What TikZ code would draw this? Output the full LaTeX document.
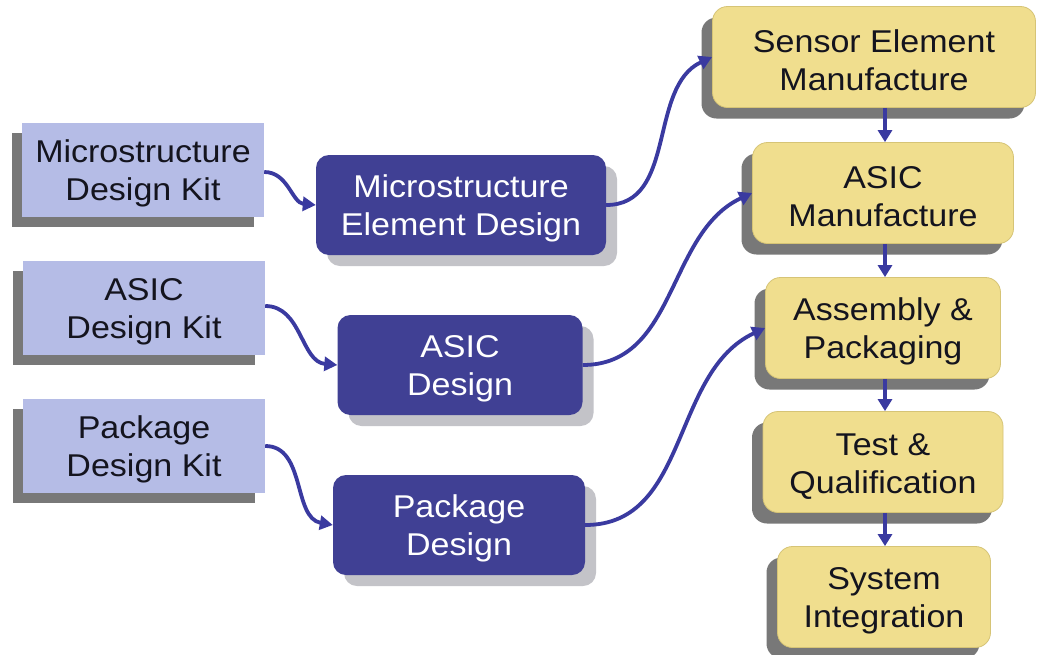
\documentclass[tikz,border=0pt]{standalone}
\usepackage{fontspec}
\setmainfont{Liberation Sans}[FakeStretch=1.08]
\usetikzlibrary{shadows,arrows.meta}
\definecolor{kitblue}{RGB}{181,188,230}
\definecolor{darkblue}{RGB}{64,64,148}
\definecolor{sand}{RGB}{240,222,142}
\definecolor{sandedge}{RGB}{214,196,118}
\definecolor{arrowblue}{RGB}{58,58,160}
\definecolor{shadowdark}{RGB}{120,120,120}
\definecolor{shadowlight}{RGB}{195,195,200}
\definecolor{inktext}{RGB}{20,20,30}
\newcommand\tp{\rule{0pt}{30pt}}
\tikzset{
  txt/.style={font=\fontsize{31.5}{38}\selectfont, align=center, inner sep=0pt},
  kitbox/.style={txt, fill=kitblue, text=inktext,
    minimum width=242pt, minimum height=94pt,
    drop shadow={shadow xshift=-10pt, shadow yshift=-10pt, fill=shadowdark, opacity=1}},
  designbox/.style={txt, fill=darkblue, text=white, rounded corners=13pt,
    minimum height=100pt,
    drop shadow={shadow xshift=11pt, shadow yshift=-11pt, fill=shadowlight, opacity=1}},
  mfgbox/.style={txt, fill=sand, draw=sandedge, line width=0.8pt, text=inktext, rounded corners=15pt,
    minimum height=101pt,
    drop shadow={shadow xshift=-11pt, shadow yshift=-11pt, fill=shadowdark, opacity=1}},
  flow/.style={draw=arrowblue, line width=3.6pt, -{Triangle[length=12pt,width=14pt]}},
  curveflow/.style={draw=arrowblue, line width=3.8pt, -{Triangle[length=13pt,width=14pt]}, looseness=1}
}
\begin{document}
\begin{tikzpicture}[x=1pt,y=-1pt]
\fill[white] (0,0) rectangle (1045,654);
\useasboundingbox (0,0) rectangle (1045,654);

% left: design kits
\node[kitbox] (mdk) at (143,170) {\tp Microstructure\\Design Kit};
\node[kitbox] (adk) at (144,308) {\tp ASIC\\Design Kit};
\node[kitbox] (pdk) at (144,446) {\tp Package\\Design Kit};

% middle: designs
\node[designbox, minimum width=290pt] (med) at (461,205) {\tp Microstructure\\Element Design};
\node[designbox, minimum width=245pt] (ad) at (460,365) {\tp ASIC\\Design};
\node[designbox, minimum width=252pt] (pd) at (459,525) {\tp Package\\Design};

% right: manufacturing chain
\node[mfgbox, minimum width=323pt] (sem) at (874,57) {\tp Sensor Element\\Manufacture};
\node[mfgbox, minimum width=261pt] (am) at (883,193) {\tp ASIC\\Manufacture};
\node[mfgbox, minimum width=235pt] (ap) at (883,328) {\tp Assembly \&\\Packaging};
\node[mfgbox, minimum width=240pt] (tq) at (883,462) {\tp Test \&\\Qualification};
\node[mfgbox, minimum width=213pt] (si) at (884,597) {\tp System\\Integration};

% kit -> design
\draw[curveflow] (mdk.east) ++(0,2) to[out=0,in=175] (med.west);
\draw[curveflow] (adk.east) ++(0,-2) to[out=0,in=175] (ad.west);
\draw[curveflow] (pdk.east) to[out=0,in=170] (pd.west);

% design -> manufacture
\draw[curveflow] (med.east) to[out=0,in=205] (sem.west);
\draw[curveflow] (ad.east) to[out=0,in=205] (am.west);
\draw[curveflow] (pd.east) to[out=0,in=205] (ap.west);

% vertical chain
\draw[flow] (sem.south -| 885,0) -- (am.north -| 885,0);
\draw[flow] (am.south -| 885,0) -- (ap.north -| 885,0);
\draw[flow] (ap.south -| 885,0) -- (tq.north -| 885,0);
\draw[flow] (tq.south -| 885,0) -- (si.north -| 885,0);
\end{tikzpicture}
\end{document}
